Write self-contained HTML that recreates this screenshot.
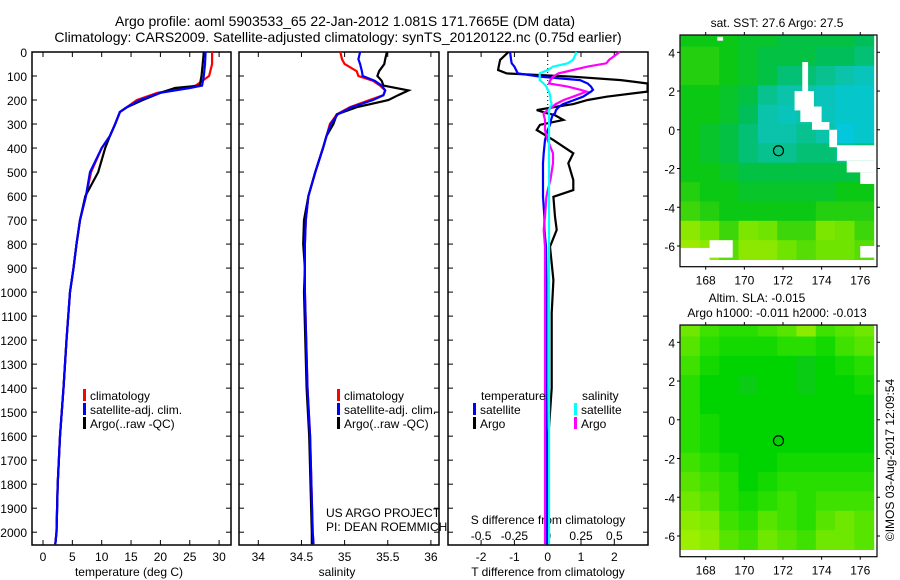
<!DOCTYPE html>
<html><head><meta charset="utf-8">
<style>
html,body{margin:0;padding:0;background:#fff;}
svg{display:block;font-family:"Liberation Sans",sans-serif;}
text{fill:#000;}
</style></head>
<body>
<svg id="fig" width="900" height="580" viewBox="0 0 900 580" xmlns="http://www.w3.org/2000/svg">
<text x="345" y="26" font-size="14" text-anchor="middle">Argo profile: aoml 5903533_65 22-Jan-2012 1.081S 171.7665E (DM data)</text>
<text x="338" y="42" font-size="14" text-anchor="middle">Climatology: CARS2009. Satellite-adjusted climatology: synTS_20120122.nc (0.75d earlier)</text>
<g id="g1"></g>
<g id="g2"></g>
<g id="g3"></g>
<g id="m1"></g>
<g id="m2"></g>
<text x="777" y="27" font-size="12" text-anchor="middle">sat. SST: 27.6 Argo: 27.5</text>
<text x="757" y="302" font-size="12" text-anchor="middle">Altim. SLA: -0.015</text>
<text x="777" y="317" font-size="12" text-anchor="middle">Argo h1000: -0.011 h2000: -0.013</text>
<text transform="translate(894,460) rotate(-90)" font-size="12" text-anchor="middle">©IMOS 03-Aug-2017 12:09:54</text>
<text x="326" y="517" font-size="12">US ARGO PROJECT</text>
<text x="326" y="531" font-size="12">PI: DEAN ROEMMICH</text>
</svg>
<script>
// ---- profile data ----
const tDepth = [0,50,100,140,150,170,200,230,250,300,350,400,500,600,700,800,900,1000,1200,1400,1600,1800,2000,2050];
const tClim  = [28.8,28.8,28.3,26.0,24.5,19.5,16.0,14.3,13.1,12.3,11.4,10.0,8.2,7.3,6.3,5.7,5.2,4.6,4.0,3.5,2.9,2.5,2.3,2.1];
const tSat   = [27.7,27.6,27.4,27.1,25.0,20.0,16.5,14.3,13.1,12.3,11.4,10.0,8.0,7.3,6.3,5.7,5.2,4.6,4.0,3.5,2.9,2.5,2.3,2.1];
const tArgo  = [27.4,27.2,27.0,26.7,22.5,20.0,17.0,14.3,13.1,12.3,11.4,10.6,9.4,7.2,6.3,5.7,5.2,4.6,4.0,3.5,2.9,2.5,2.3,2.1];

const sDepth = [0,30,50,80,100,120,140,160,180,200,230,260,280,300,350,400,500,600,700,800,900,1000,1400,1600,2000,2050];
const sClim  = [34.95,34.97,35.0,35.14,35.16,35.33,35.41,35.47,35.45,35.29,35.06,34.91,34.87,34.83,34.79,34.75,34.66,34.58,34.55,34.54,34.54,34.54,34.57,34.6,34.63,34.64];
const sSat   = [35.18,35.16,35.18,35.2,35.21,35.35,35.43,35.47,35.45,35.33,35.08,34.92,34.88,34.84,34.79,34.75,34.66,34.58,34.55,34.54,34.54,34.54,34.57,34.6,34.63,34.64];
const sArgo  = [35.49,35.47,35.46,35.40,35.38,35.43,35.45,35.74,35.62,35.51,35.14,34.91,34.89,34.87,34.79,34.75,34.66,34.58,34.53,34.52,34.54,34.53,34.56,34.59,34.62,34.62];

const dDepth   = [0,33,47,61,75,89,103,117,131,144,158,165,186,200,217,227,242,255,262,283,303,325,367,422,463,533,575,603,686,741,811,950,1088,1400,1600,2050];
const dTSat    = [-1.13,-1.1,-1.08,-1.0,-0.95,-0.9,-0.23,0.97,1.2,1.3,1.36,1.3,1.06,0.8,0.46,0.35,0.25,0.22,0.15,0.1,0.07,0.0,-0.08,-0.12,-0.14,-0.14,-0.14,-0.14,-0.1,-0.1,-0.05,-0.04,-0.04,-0.04,-0.03,-0.03];
const dTArgo   = [-1.18,-1.43,-1.45,-1.47,-1.49,-1.23,0.76,2.2,3.0,3.0,3.0,3.0,1.77,1.2,0.77,0.3,-0.33,-0.03,0.2,0.47,-0.23,-0.33,0.17,0.77,0.62,0.77,0.77,0.17,0.22,0.27,0.07,0.17,0.12,0.12,0.02,0.0];
const dSSat    = [0.217,0.19,0.15,0.04,0.0,-0.06,-0.06,-0.06,-0.03,-0.01,0.0,0.01,0.02,0.02,0.03,0.02,0.01,0.01,0.01,0.01,0.01,0.01,0.01,0.01,0.01,0.01,0.01,0.01,0.01,0.01,0.01,0.01,0.01,0.01,0.01,0.01];
const dSArgo   = [0.54,0.46,0.44,0.3,0.19,0.08,0.04,0.02,0.01,0.15,0.25,0.29,0.19,0.12,0.06,0.04,0.0,-0.03,-0.03,-0.02,-0.02,-0.02,0.0,0.04,0.04,0.02,0.0,-0.01,-0.02,-0.03,-0.02,-0.02,-0.02,-0.02,-0.02,-0.02];

const depthTicks = [0,100,200,300,400,500,600,700,800,900,1000,1100,1200,1300,1400,1500,1600,1700,1800,1900,2000];
const tempTicks = [0,5,10,15,20,25,30];
const salTicks = [34,34.5,35,35.5,36];
const salTickLabels = ["34","34.5","35","35.5","36"];
const dTTicks = [-2,-1,0,1,2];
const dSTicks = [-0.5,-0.25,0,0.25,0.5];
const dSTickLabels = ["-0.5","-0.25","0","0.25","0.5"];

// ---- map data (1-degree cells, lon 167..177, lat 5..-7) ----
const mapLons = [167,168,169,170,171,172,173,174,175,176];
const mapLats = [5,4,3,2,1,0,-1,-2,-3,-4,-5,-6];
const sstGrid = [
 [0.5,0.5,0.5,0.55,0.55,0.6,0.6,0.6,0.6,0.65],
 [0.45,0.45,0.5,0.55,0.6,0.6,0.6,0.65,0.65,0.7],
 [0.45,0.45,0.5,0.55,0.6,0.7,0.7,0.75,0.8,0.85],
 [0.5,0.5,0.55,0.6,0.75,0.8,0.8,0.85,0.9,0.9],
 [0.5,0.5,0.55,0.65,0.8,0.85,0.8,0.85,0.9,0.9],
 [0.5,0.55,0.6,0.7,0.8,0.8,0.75,0.8,0.95,0.9],
 [0.5,0.55,0.6,0.7,0.75,0.75,0.7,0.7,0.75,0.7],
 [0.5,0.5,0.55,0.6,0.6,0.6,0.6,0.6,0.6,0.6],
 [0.45,0.5,0.5,0.55,0.55,0.55,0.55,0.55,0.5,0.5],
 [0.4,0.45,0.5,0.5,0.5,0.5,0.5,0.45,0.45,0.45],
 [0.2,0.3,0.4,0.25,0.3,0.4,0.4,0.25,0.3,0.4],
 [0.15,0.2,0.35,0.2,0.2,0.3,0.35,0.3,0.3,0.35]];
const slaGrid = [
 [0.3,0.4,0.45,0.45,0.4,0.35,0.2,0.4,0.35,0.3],
 [0.35,0.45,0.5,0.5,0.5,0.45,0.45,0.5,0.4,0.35],
 [0.4,0.5,0.55,0.55,0.55,0.55,0.6,0.55,0.5,0.45],
 [0.45,0.55,0.55,0.6,0.55,0.55,0.6,0.55,0.55,0.5],
 [0.45,0.55,0.55,0.55,0.55,0.55,0.55,0.55,0.55,0.55],
 [0.45,0.5,0.55,0.55,0.55,0.55,0.55,0.55,0.55,0.55],
 [0.45,0.5,0.55,0.55,0.55,0.55,0.55,0.55,0.55,0.55],
 [0.4,0.45,0.5,0.55,0.55,0.5,0.5,0.5,0.5,0.5],
 [0.35,0.4,0.45,0.55,0.5,0.45,0.45,0.45,0.45,0.45],
 [0.3,0.35,0.45,0.5,0.45,0.4,0.45,0.4,0.4,0.4],
 [0.2,0.25,0.4,0.45,0.35,0.4,0.45,0.35,0.3,0.35],
 [0.15,0.2,0.35,0.4,0.3,0.35,0.4,0.3,0.3,0.35]];
const mapLonTicks = [168,170,172,174,176];
const mapLatTicks = [4,2,0,-2,-4,-6];
// missing-data (white) regions as [lon0,lat0,lon1,lat1]
const sstMissing = [[173.0,3.5,173.3,1.2],[172.6,2.0,173.6,1.0],[172.9,1.2,174.0,0.4],[173.5,0.4,174.4,0.0],[174.4,0.0,174.8,-0.9],[174.8,-0.8,176.9,-1.6],[175.3,-1.6,176.9,-2.2],[176.0,-2.2,176.9,-2.8],[166.7,-6.1,168.2,-7.1],[168.2,-5.7,169.4,-6.6],[168.6,4.8,168.9,4.6],[176.0,-6.0,176.9,-6.6]];
const argoLon = 171.7665, argoLat = -1.081;

const NS = "http://www.w3.org/2000/svg";
function mk(tag, attrs, parent){const e=document.createElementNS(NS,tag);for(const k in attrs)e.setAttribute(k,attrs[k]);parent.appendChild(e);return e;}

const PT=52, PB=545;
const yD = d => PT + d*0.2401;

function frame(g,x0,x1,name){
  const r=mk('rect',{x:x0,y:PT,width:x1-x0,height:PB-PT,fill:'none',stroke:'#000','stroke-width':1.5},g);
  
  
  depthTicks.forEach(d=>{
    mk('line',{x1:x0,x2:x0+5,y1:yD(d),y2:yD(d),stroke:'#000'},g);
    mk('line',{x1:x1-5,x2:x1,y1:yD(d),y2:yD(d),stroke:'#000'},g);
  });
}
function line(g,xs,ds,fx,color,name){
  const pts=xs.map((v,i)=>fx(v).toFixed(1)+','+yD(ds[i]).toFixed(1)).join(' ');
  const p=mk('polyline',{points:pts,fill:'none',stroke:color,'stroke-width':2.2},g);
  
  
}
function legendRow(g,x,y,color,label,name){
  mk('rect',{x:x-2,y:y-9,width:3,height:12,fill:color},g);
  const t=mk('text',{x:x+5,y:y+2,'font-size':12},g);t.textContent=label;
  
  
}

// ---- panel 1: temperature ----
const g1=document.getElementById('g1');
const xT = v => 43 + v*5.87;
frame(g1,32,231,'temperature-panel');
depthTicks.forEach(d=>{
  const t=mk('text',{x:27,y:yD(d)+5,'font-size':12,'text-anchor':'end'},g1);t.textContent=d;
  
  
});
tempTicks.forEach(v=>{
  mk('line',{x1:xT(v),x2:xT(v),y1:PT,y2:PT+5,stroke:'#000'},g1);
  mk('line',{x1:xT(v),x2:xT(v),y1:PB-5,y2:PB,stroke:'#000'},g1);
  const t=mk('text',{x:xT(v),y:561,'font-size':12,'text-anchor':'middle'},g1);t.textContent=v;
  
  
});
{const t=mk('text',{x:129,y:576,'font-size':12,'text-anchor':'middle'},g1);t.textContent='temperature (deg C)';

}
line(g1,tClim,tDepth,xT,'#ff0000','temperature-climatology-line');
line(g1,tArgo,tDepth,xT,'#000000','temperature-argo-line');
line(g1,tSat,tDepth,xT,'#0000ff','temperature-satellite-line');
legendRow(g1,85,398,'#ff0000','climatology','legend-climatology');
legendRow(g1,85,412,'#0000ff','satellite-adj. clim.','legend-satellite-adj');
legendRow(g1,85,426,'#000000','Argo(..raw -QC)','legend-argo');

// ---- panel 2: salinity ----
const g2=document.getElementById('g2');
const xS = v => 258.3 + (v-34)*86.3;
frame(g2,239,439,'salinity-panel');
salTicks.forEach((v,i)=>{
  mk('line',{x1:xS(v),x2:xS(v),y1:PT,y2:PT+5,stroke:'#000'},g2);
  mk('line',{x1:xS(v),x2:xS(v),y1:PB-5,y2:PB,stroke:'#000'},g2);
  const t=mk('text',{x:xS(v),y:561,'font-size':12,'text-anchor':'middle'},g2);t.textContent=salTickLabels[i];
  
  
});
{const t=mk('text',{x:337,y:576,'font-size':12,'text-anchor':'middle'},g2);t.textContent='salinity';

}
line(g2,sClim,sDepth,xS,'#ff0000','salinity-climatology-line');
line(g2,sArgo,sDepth,xS,'#000000','salinity-argo-line');
line(g2,sSat,sDepth,xS,'#0000ff','salinity-satellite-line');
legendRow(g2,339,398,'#ff0000','climatology','legend-climatology-sal');
legendRow(g2,339,412,'#0000ff','satellite-adj. clim.','legend-satellite-adj-sal');
legendRow(g2,339,426,'#000000','Argo(..raw -QC)','legend-argo-sal');

// ---- panel 3: differences ----
const g3=document.getElementById('g3');
const xDT = v => 547.7 + Math.max(-3,Math.min(3,v))*33.3;
const xDS = v => 547.7 + v*133.3;
frame(g3,448,648,'difference-panel');
mk('line',{x1:547.7,x2:547.7,y1:PT,y2:PT+60,stroke:'#000','stroke-dasharray':'1,3'},g3);
dTTicks.forEach(v=>{
  mk('line',{x1:xDT(v),x2:xDT(v),y1:PT,y2:PT+5,stroke:'#000'},g3);
  mk('line',{x1:xDT(v),x2:xDT(v),y1:PB-5,y2:PB,stroke:'#000'},g3);
  const t=mk('text',{x:xDT(v),y:561,'font-size':12,'text-anchor':'middle'},g3);t.textContent=v;
  
  
});
dSTicks.forEach((v,i)=>{
  const t=mk('text',{x:xDS(v),y:540,'font-size':12,'text-anchor':'middle'},g3);t.textContent=dSTickLabels[i];
  
  
});
{const t=mk('text',{x:548,y:576,'font-size':12,'text-anchor':'middle'},g3);t.textContent='T difference from climatology';

}
{const t=mk('text',{x:548,y:524,'font-size':12,'text-anchor':'middle'},g3);t.textContent='S difference from climatology';

}
line(g3,dTArgo,dDepth,xDT,'#000000','t-diff-argo-line');
line(g3,dTSat,dDepth,xDT,'#0000ff','t-diff-satellite-line');
line(g3,dSArgo,dDepth,xDS,'#ff00ff','s-diff-argo-line');
line(g3,dSSat,dDepth,xDS,'#00ffff','s-diff-satellite-line');
{const t=mk('text',{x:481,y:400,'font-size':12},g3);t.textContent='temperature';

}
{const t=mk('text',{x:582,y:400,'font-size':12},g3);t.textContent='salinity';

}
legendRow(g3,475,412,'#0000ff','satellite','legend-t-satellite');
legendRow(g3,475,426,'#000000','Argo','legend-t-argo');
legendRow(g3,576,412,'#00ffff','satellite','legend-s-satellite');
legendRow(g3,576,426,'#ff00ff','Argo','legend-s-argo');

// ---- maps ----
const sstStops=[[0,[200,240,0]],[0.3,[110,228,0]],[0.5,[10,200,20]],[0.65,[0,190,90]],[0.8,[10,195,170]],[1,[0,200,235]]];
const slaStops=[[0,[200,245,0]],[0.3,[110,232,0]],[0.45,[40,222,0]],[0.55,[0,212,0]],[0.65,[20,195,40]],[1,[20,180,80]]];
function cmap(stops,v){for(let i=1;i<stops.length;i++){if(v<=stops[i][0]){const a=stops[i-1],b=stops[i];const f=(v-a[0])/(b[0]-a[0]);return 'rgb('+a[1].map((c,k)=>Math.round(c+(b[1][k]-c)*f)).join(',')+')';}}const l=stops[stops.length-1][1];return 'rgb('+l.join(',')+')';}
const MX0=680,MX1=877;
const mx = lon => 705.7 + (lon-168)*19.32;
function drawMap(gid,top,grid,missing,stops,name){
  const g=document.getElementById(gid);
  const bottom=top+231.7;
  const my = lat => top + 17.3 + (4-lat)*19.37;
  const cp=mk('clipPath',{id:'clip'+gid},g);
  mk('rect',{x:MX0,y:top,width:MX1-MX0,height:bottom-top},cp);
  const cg=mk('g',{'clip-path':'url(#clip'+gid+')'},g);
  grid.forEach((row,r)=>row.forEach((v,c)=>{
    const lon=mapLons[c],lat=mapLats[r];
    const e=mk('rect',{x:mx(lon-0.3).toFixed(1),y:my(lat+0.3).toFixed(1),width:(19.32*1.02).toFixed(1),height:(19.37*1.02).toFixed(1),fill:cmap(stops,v)},cg);
    
    
  }));
  missing.forEach(m=>{
    const e=mk('rect',{x:mx(m[0]),y:my(m[1]),width:mx(m[2])-mx(m[0]),height:my(m[3])-my(m[1]),fill:'#fff'},cg);
    
    
  });
  const c=mk('circle',{cx:mx(argoLon),cy:my(argoLat),r:5,fill:'none',stroke:'#000','stroke-width':1.2},g);
  
  
  const f=mk('rect',{x:MX0,y:top,width:MX1-MX0,height:bottom-top,fill:'none',stroke:'#000','stroke-width':1.2},g);
  
  
  mapLonTicks.forEach(v=>{
    mk('line',{x1:mx(v),x2:mx(v),y1:top-3,y2:top,stroke:'#000'},g);
    mk('line',{x1:mx(v),x2:mx(v),y1:bottom,y2:bottom+3,stroke:'#000'},g);
    const t=mk('text',{x:mx(v),y:bottom+18,'font-size':12,'text-anchor':'middle'},g);t.textContent=v;
    
    
  });
  mapLatTicks.forEach(v=>{
    mk('line',{x1:MX0-3,x2:MX0,y1:my(v),y2:my(v),stroke:'#000'},g);
    mk('line',{x1:MX1,x2:MX1+3,y1:my(v),y2:my(v),stroke:'#000'},g);
    const t=mk('text',{x:675,y:my(v)+5,'font-size':12,'text-anchor':'end'},g);t.textContent=v;
    
    
  });
}
drawMap('m1',35,sstGrid,sstMissing,sstStops,'sst-map');
drawMap('m2',325,slaGrid,[],slaStops,'sla-map');
</script>
</body></html>
